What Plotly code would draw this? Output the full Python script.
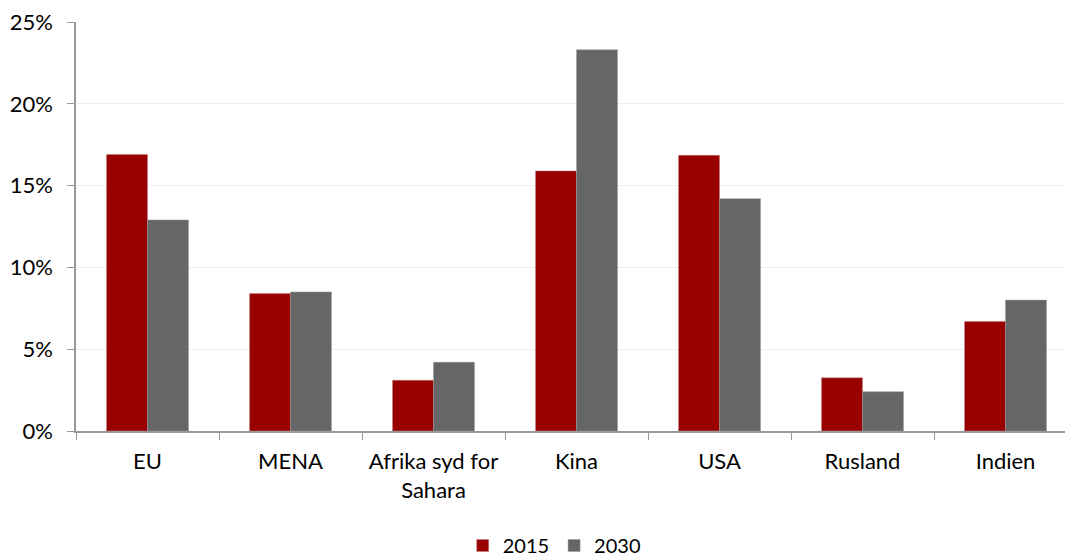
import plotly.graph_objects as go

categories = ["EU", "MENA", "Afrika syd for<br>Sahara", "Kina", "USA", "Rusland", "Indien"]
values_2015 = [16.9, 8.4, 3.1, 15.9, 16.85, 3.25, 6.7]
values_2030 = [12.9, 8.5, 4.2, 23.3, 14.2, 2.4, 8.0]

font_family = "Lato, Carlito, Calibri, sans-serif"

fig = go.Figure()
fig.add_trace(go.Bar(name="2015", x=categories, y=values_2015,
                     marker=dict(color="#990000", line=dict(color="#c08080", width=0.5))))
fig.add_trace(go.Bar(name="2030", x=categories, y=values_2030,
                     marker=dict(color="#666666", line=dict(color="#999999", width=0.5))))

fig.update_layout(
    width=1065, height=556,
    margin=dict(l=76, r=0, t=22, b=125, autoexpand=False),
    paper_bgcolor="white", plot_bgcolor="white",
    barmode="group", bargap=0.427, bargroupgap=0,
    font=dict(family=font_family, size=22, color="#000000"),
    showlegend=True,
    legend=dict(orientation="h", x=0.4835, xanchor="center", y=-0.28, yanchor="middle",
                font=dict(size=20), itemwidth=30, traceorder="normal"),
    xaxis=dict(range=[-0.5, 6.416], showline=True, linecolor="#999999", linewidth=1.5,
               ticks="outside", tickson="boundaries", ticklen=7, tickcolor="#999999",
               showgrid=False, tickfont=dict(size=22), ticklabelstandoff=10),
    yaxis=dict(range=[0, 25], dtick=5, ticksuffix="%", showline=True, linecolor="#999999",
               linewidth=1.5, ticks="outside", ticklen=7, tickcolor="#999999",
               gridcolor="#EEEEEE", gridwidth=1, zeroline=False, tickfont=dict(size=22),
               ticklabelstandoff=10),
)

fig.write_html("out.html", config={"displayModeBar": False},
               post_script="document.body.style.margin='0';")
